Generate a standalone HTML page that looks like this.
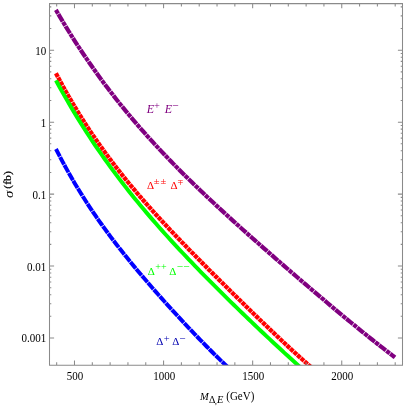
<!DOCTYPE html><html><head><meta charset="utf-8"><title>plot</title><style>
html,body{margin:0;padding:0;background:#fff}
#c{position:relative;width:407px;height:407px;overflow:hidden;background:#fff;font-family:"Liberation Serif",serif;font-size:11px;color:#000;line-height:1}
.t{position:absolute;white-space:nowrap;line-height:1}
#txt{position:absolute;left:0;top:0;width:407px;height:407px;will-change:transform;background:transparent}
.yl{text-align:right;width:40px;left:6.3px;transform-origin:0 9.21px;transform:scaleY(1.1)}
.xl{text-align:center;width:40px;transform-origin:0 9.21px;transform:scaleY(1.08)}
sup{font-size:8.5px;vertical-align:baseline;position:relative;top:-4.4px;font-style:normal;line-height:0}
sub{font-size:8px;vertical-align:baseline;position:relative;top:3.8px;line-height:0}
i{font-style:italic}
</style></head><body><div id="c">
<svg width="407" height="407" viewBox="0 0 407 407" style="position:absolute;left:0;top:0">
<defs><clipPath id="cp"><rect x="49.5" y="3.6" width="353.0" height="361.59999999999997"/></clipPath></defs>
<g clip-path="url(#cp)" fill="none" stroke-linecap="butt">
<path d="M55.91,9.93 L56.67,11.23 L59.67,16.36 L62.67,21.41 L65.67,26.37 L68.67,31.25 L71.67,36.06 L74.67,40.78 L77.67,45.42 L80.67,49.99 L83.67,54.49 L86.67,58.92 L89.67,63.28 L92.67,67.57 L95.67,71.80 L98.67,75.96 L101.67,80.07 L104.67,84.11 L107.67,88.09 L110.67,92.02 L113.67,95.89 L116.67,99.71 L119.67,103.48 L122.67,107.19 L125.67,110.86 L128.67,114.48 L131.67,118.06 L134.67,121.59 L137.67,125.08 L140.67,128.53 L143.67,131.94 L146.67,135.30 L149.67,138.64 L152.67,141.93 L155.67,145.19 L158.67,148.42 L161.67,151.62 L164.67,154.78 L167.67,157.92 L170.67,161.02 L173.67,164.10 L176.67,167.15 L179.67,170.18 L182.67,173.18 L185.67,176.16 L188.67,179.12 L191.67,182.05 L194.67,184.96 L197.67,187.86 L200.67,190.73 L203.67,193.59 L206.67,196.43 L209.67,199.26 L212.67,202.07 L215.67,204.86 L218.67,207.64 L221.67,210.41 L224.67,213.16 L227.67,215.91 L230.67,218.64 L233.67,221.36 L236.67,224.07 L239.67,226.77 L242.67,229.46 L245.67,232.14 L248.67,234.81 L251.67,237.48 L254.67,240.14 L257.67,242.79 L260.67,245.43 L263.67,248.07 L266.67,250.70 L269.67,253.33 L272.67,255.95 L275.67,258.56 L278.67,261.17 L281.67,263.78 L284.67,266.38 L287.67,268.97 L290.67,271.56 L293.67,274.14 L296.67,276.73 L299.67,279.30 L302.67,281.87 L305.67,284.44 L308.67,287.00 L311.67,289.56 L314.67,292.11 L317.67,294.66 L320.67,297.20 L323.67,299.73 L326.67,302.26 L329.67,304.78 L332.67,307.30 L335.67,309.81 L338.67,312.32 L341.67,314.81 L344.67,317.30 L347.67,319.78 L350.67,322.25 L353.67,324.71 L356.67,327.16 L359.67,329.61 L362.67,332.04 L365.67,334.46 L368.67,336.87 L371.67,339.26 L374.67,341.64 L377.67,344.01 L380.67,346.37 L383.67,348.71 L386.67,351.03 L389.67,353.33 L392.67,355.62 L393.80,356.48 L395.00,357.38" stroke="#800080" stroke-width="4.2" stroke-dasharray="4.25 0.65 8.50 0.65"/>
<path d="M55.96,73.35 L56.67,74.67 L59.67,80.29 L62.67,85.80 L65.67,91.18 L68.67,96.45 L71.67,101.60 L74.67,106.65 L77.67,111.59 L80.67,116.44 L83.67,121.18 L86.67,125.84 L89.67,130.40 L92.67,134.88 L95.67,139.27 L98.67,143.59 L101.67,147.83 L104.67,151.99 L107.67,156.09 L110.67,160.11 L113.67,164.07 L116.67,167.97 L119.67,171.82 L122.67,175.60 L125.67,179.33 L128.67,183.01 L131.67,186.64 L134.67,190.23 L137.67,193.77 L140.67,197.27 L143.67,200.72 L146.67,204.15 L149.67,207.53 L152.67,210.89 L155.67,214.21 L158.67,217.50 L161.67,220.76 L164.67,224.00 L167.67,227.22 L170.67,230.41 L173.67,233.58 L176.67,236.72 L179.67,239.86 L182.67,242.97 L185.67,246.07 L188.67,249.15 L191.67,252.22 L194.67,255.27 L197.67,258.32 L200.67,261.35 L203.67,264.38 L206.67,267.39 L209.67,270.40 L212.67,273.39 L215.67,276.38 L218.67,279.37 L221.67,282.34 L224.67,285.31 L227.67,288.28 L230.67,291.23 L233.67,294.19 L236.67,297.13 L239.67,300.07 L242.67,303.01 L245.67,305.94 L248.67,308.86 L251.67,311.78 L254.67,314.69 L257.67,317.59 L260.67,320.49 L263.67,323.37 L266.67,326.25 L269.67,329.12 L272.67,331.98 L275.67,334.82 L278.67,337.66 L281.67,340.48 L284.67,343.28 L287.67,346.08 L290.67,348.85 L293.67,351.61 L296.67,354.35 L299.67,357.06 L302.67,359.76 L305.67,362.43 L308.67,365.08 L311.67,367.70 L312.00,367.99 L313.13,368.97" stroke="#ff0000" stroke-width="4.3" stroke-dasharray="4.13 0.65"/>
<path d="M55.95,80.39 L56.67,81.71 L59.67,87.20 L62.67,92.60 L65.67,97.89 L68.67,103.09 L71.67,108.20 L74.67,113.21 L77.67,118.14 L80.67,122.99 L83.67,127.75 L86.67,132.44 L89.67,137.04 L92.67,141.57 L95.67,146.03 L98.67,150.42 L101.67,154.75 L104.67,159.00 L107.67,163.20 L110.67,167.33 L113.67,171.40 L116.67,175.42 L119.67,179.38 L122.67,183.29 L125.67,187.15 L128.67,190.96 L131.67,194.72 L134.67,198.44 L137.67,202.11 L140.67,205.74 L143.67,209.33 L146.67,212.88 L149.67,216.40 L152.67,219.87 L155.67,223.32 L158.67,226.73 L161.67,230.11 L164.67,233.46 L167.67,236.79 L170.67,240.08 L173.67,243.35 L176.67,246.60 L179.67,249.82 L182.67,253.01 L185.67,256.19 L188.67,259.35 L191.67,262.48 L194.67,265.60 L197.67,268.70 L200.67,271.78 L203.67,274.85 L206.67,277.90 L209.67,280.93 L212.67,283.95 L215.67,286.96 L218.67,289.95 L221.67,292.93 L224.67,295.90 L227.67,298.86 L230.67,301.81 L233.67,304.74 L236.67,307.67 L239.67,310.58 L242.67,313.49 L245.67,316.38 L248.67,319.27 L251.67,322.14 L254.67,325.00 L257.67,327.86 L260.67,330.70 L263.67,333.54 L266.67,336.36 L269.67,339.18 L272.67,341.98 L275.67,344.77 L278.67,347.55 L281.67,350.32 L284.67,353.08 L287.67,355.82 L290.67,358.55 L293.67,361.27 L296.67,363.97 L299.67,366.66 L302.00,368.74 L303.12,369.74" stroke="#00ff00" stroke-width="3.95"/>
<path d="M55.98,149.04 L56.67,150.38 L59.67,156.19 L62.67,161.86 L65.67,167.38 L68.67,172.76 L71.67,178.01 L74.67,183.14 L77.67,188.14 L80.67,193.03 L83.67,197.81 L86.67,202.49 L89.67,207.08 L92.67,211.57 L95.67,215.97 L98.67,220.29 L101.67,224.53 L104.67,228.69 L107.67,232.79 L110.67,236.82 L113.67,240.79 L116.67,244.70 L119.67,248.55 L122.67,252.36 L125.67,256.12 L128.67,259.83 L131.67,263.50 L134.67,267.13 L137.67,270.72 L140.67,274.28 L143.67,277.81 L146.67,281.30 L149.67,284.77 L152.67,288.21 L155.67,291.63 L158.67,295.02 L161.67,298.39 L164.67,301.74 L167.67,305.06 L170.67,308.37 L173.67,311.66 L176.67,314.92 L179.67,318.17 L182.67,321.40 L185.67,324.61 L188.67,327.80 L191.67,330.97 L194.67,334.12 L197.67,337.25 L200.67,340.35 L203.67,343.43 L206.67,346.49 L209.67,349.52 L212.67,352.52 L215.67,355.49 L218.67,358.42 L221.67,361.32 L224.67,364.19 L227.67,367.01 L230.00,369.18 L231.10,370.20" stroke="#0000ff" stroke-width="4.0" stroke-dasharray="8.39 0.65"/>
</g>
<path d="M49.5,3.6H402.5V365.2H49.5ZM56.67,365.2v-2.9M56.67,3.6v2.9M74.49,365.2v-4.6M74.49,3.6v4.6M92.31,365.2v-2.9M92.31,3.6v2.9M110.12,365.2v-2.9M110.12,3.6v2.9M127.94,365.2v-2.9M127.94,3.6v2.9M145.76,365.2v-2.9M145.76,3.6v2.9M163.58,365.2v-4.6M163.58,3.6v4.6M181.39,365.2v-2.9M181.39,3.6v2.9M199.21,365.2v-2.9M199.21,3.6v2.9M217.03,365.2v-2.9M217.03,3.6v2.9M234.85,365.2v-2.9M234.85,3.6v2.9M252.66,365.2v-4.6M252.66,3.6v4.6M270.48,365.2v-2.9M270.48,3.6v2.9M288.30,365.2v-2.9M288.30,3.6v2.9M306.12,365.2v-2.9M306.12,3.6v2.9M323.93,365.2v-2.9M323.93,3.6v2.9M341.75,365.2v-4.6M341.75,3.6v4.6M359.57,365.2v-2.9M359.57,3.6v2.9M377.39,365.2v-2.9M377.39,3.6v2.9M395.20,365.2v-2.9M395.20,3.6v2.9M49.5,338.00h4.6M402.5,338.00h-4.6M49.5,316.34h1.8M402.5,316.34h-1.8M49.5,303.67h1.8M402.5,303.67h-1.8M49.5,294.68h1.8M402.5,294.68h-1.8M49.5,287.71h1.8M402.5,287.71h-1.8M49.5,282.01h1.8M402.5,282.01h-1.8M49.5,277.20h1.8M402.5,277.20h-1.8M49.5,273.02h1.8M402.5,273.02h-1.8M49.5,269.34h1.8M402.5,269.34h-1.8M49.5,266.05h4.6M402.5,266.05h-4.6M49.5,244.39h1.8M402.5,244.39h-1.8M49.5,231.72h1.8M402.5,231.72h-1.8M49.5,222.73h1.8M402.5,222.73h-1.8M49.5,215.76h1.8M402.5,215.76h-1.8M49.5,210.06h1.8M402.5,210.06h-1.8M49.5,205.25h1.8M402.5,205.25h-1.8M49.5,201.07h1.8M402.5,201.07h-1.8M49.5,197.39h1.8M402.5,197.39h-1.8M49.5,194.10h4.6M402.5,194.10h-4.6M49.5,172.44h1.8M402.5,172.44h-1.8M49.5,159.77h1.8M402.5,159.77h-1.8M49.5,150.78h1.8M402.5,150.78h-1.8M49.5,143.81h1.8M402.5,143.81h-1.8M49.5,138.11h1.8M402.5,138.11h-1.8M49.5,133.30h1.8M402.5,133.30h-1.8M49.5,129.12h1.8M402.5,129.12h-1.8M49.5,125.44h1.8M402.5,125.44h-1.8M49.5,122.15h4.6M402.5,122.15h-4.6M49.5,100.49h1.8M402.5,100.49h-1.8M49.5,87.82h1.8M402.5,87.82h-1.8M49.5,78.83h1.8M402.5,78.83h-1.8M49.5,71.86h1.8M402.5,71.86h-1.8M49.5,66.16h1.8M402.5,66.16h-1.8M49.5,61.35h1.8M402.5,61.35h-1.8M49.5,57.17h1.8M402.5,57.17h-1.8M49.5,53.49h1.8M402.5,53.49h-1.8M49.5,50.20h4.6M402.5,50.20h-4.6M49.5,28.54h1.8M402.5,28.54h-1.8M49.5,15.87h1.8M402.5,15.87h-1.8M49.5,6.88h1.8M402.5,6.88h-1.8" stroke="#8a8a8a" stroke-width="1.05" fill="none"/>
</svg>
<div id="txt">
<div class="t yl" style="top:45.69px">10</div>
<div class="t yl" style="top:117.64px">1</div>
<div class="t yl" style="top:189.59px">0.1</div>
<div class="t yl" style="top:261.54px">0.01</div>
<div class="t yl" style="top:333.49px">0.001</div>
<div class="t xl" style="left:55.09px;top:370.79px">500</div>
<div class="t xl" style="left:144.18px;top:370.79px">1000</div>
<div class="t xl" style="left:233.26px;top:370.79px">1500</div>
<div class="t xl" style="left:322.35px;top:370.79px">2000</div>
<div class="t" style="left:200.00px;top:391.71px;font-size:10.5px;color:#000;font-style:italic;transform-origin:0 8.79px;transform:scale(1,1.06);">M</div>
<div class="t" style="left:208.60px;top:396.14px;font-size:9.5px;color:#000;transform-origin:0 7.96px;transform:scale(1.05,1);">Δ</div>
<div class="t" style="left:214.84px;top:396.56px;font-size:9px;color:#000;">,</div>
<div class="t" style="left:217.10px;top:396.14px;font-size:9.5px;color:#000;font-style:italic;transform-origin:0 7.96px;transform:scale(1.1,1);">E</div>
<div class="t" style="left:226.26px;top:391.49px;transform-origin:0 9.21px;transform:scaleY(1.06)">(GeV)</div>
<div class="t" style="left:0;top:0;font-size:13px;font-style:italic;transform-origin:0 0;transform:translate(1.71px,197.95px) rotate(-90deg) scale(1.15,1)">&sigma;</div>
<div class="t" style="left:0;top:0;font-size:11px;-webkit-text-stroke:0.2px #000;transform-origin:0 0;transform:translate(2.09px,188.70px) rotate(-90deg) scale(1.06,1)">(fb)</div>
<div class="t" style="left:146.72px;top:103.05px;font-size:12px;color:#800080;font-style:italic;">E</div>
<div class="t" style="left:154.07px;top:101.11px;font-size:10.5px;color:#800080;">+</div>
<div class="t" style="left:164.82px;top:103.05px;font-size:12px;color:#800080;font-style:italic;">E</div>
<div class="t" style="left:172.23px;top:99.81px;font-size:11.5px;color:#800080;">−</div>
<div class="t" style="left:147.06px;top:180.49px;font-size:11px;color:#ff0000;">Δ</div>
<div class="t" style="left:153.63px;top:176.43px;font-size:10.5px;color:#ff0000;transform-origin:0 5.77px;transform:scale(1,0.833);">±</div>
<div class="t" style="left:160.38px;top:176.43px;font-size:10.5px;color:#ff0000;transform-origin:0 5.77px;transform:scale(1,0.833);">±</div>
<div class="t" style="left:170.56px;top:180.49px;font-size:11px;color:#ff0000;">Δ</div>
<div class="t" style="left:177.58px;top:176.43px;font-size:10.5px;color:#ff0000;transform-origin:0 5.77px;transform:scale(1,-0.833);">±</div>
<div class="t" style="left:147.86px;top:265.59px;font-size:11px;color:#00ff00;">Δ</div>
<div class="t" style="left:155.30px;top:262.25px;font-size:10px;color:#00ff00;">+</div>
<div class="t" style="left:161.00px;top:262.25px;font-size:10px;color:#00ff00;">+</div>
<div class="t" style="left:169.26px;top:265.59px;font-size:11px;color:#00ff00;">Δ</div>
<div class="t" style="left:176.84px;top:261.01px;font-size:11.3px;color:#00ff00;">−</div>
<div class="t" style="left:183.24px;top:261.01px;font-size:11.3px;color:#00ff00;">−</div>
<div class="t" style="left:156.26px;top:336.29px;font-size:11px;color:#0000b0;">Δ</div>
<div class="t" style="left:163.67px;top:333.81px;font-size:10.5px;color:#0000b0;">+</div>
<div class="t" style="left:172.36px;top:336.29px;font-size:11px;color:#0000b0;">Δ</div>
<div class="t" style="left:179.35px;top:332.76px;font-size:11px;color:#0000b0;">−</div>
</div></div></body></html>
